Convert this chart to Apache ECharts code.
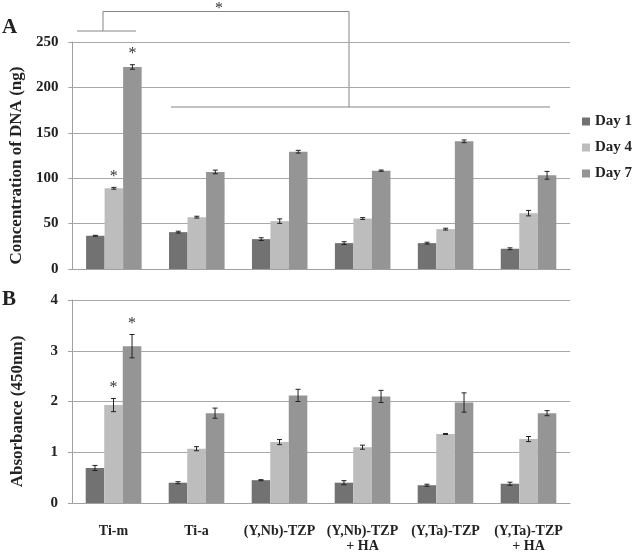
<!DOCTYPE html>
<html><head><meta charset="utf-8">
<script src="https://cdn.jsdelivr.net/npm/echarts@6/dist/echarts.min.js"></script>
<style>html,body{margin:0;padding:0;background:#fff}#c{width:632px;height:554px}</style>
</head><body><div id="c"></div>
<script>
var categories = ['Ti-m', 'Ti-a', '(Y,Nb)-TZP', '(Y,Nb)-TZP\n+ HA', '(Y,Ta)-TZP', '(Y,Ta)-TZP\n+ HA'];
var seriesNames = ['Day 1', 'Day 4', 'Day 7'];
// Panel A: DNA concentration (ng)
var dnaDay1 = [36.6, 40.6, 32.9, 28.5, 28.5, 22.3];
var dnaDay4 = [88.9, 57.1, 52.7, 55.6, 43.9, 61.5];
var dnaDay7 = [222.5, 106.9, 129.2, 108.3, 140.6, 103.2];
var dnaErr1 = [0.5, 1.0, 1.5, 1.5, 1.0, 1.0];
var dnaErr4 = [1.0, 1.0, 2.5, 1.0, 1.0, 3.0];
var dnaErr7 = [2.5, 2.0, 1.5, 0.7, 1.5, 4.3];
// Panel B: absorbance (450nm)
var absDay1 = [0.69, 0.40, 0.45, 0.40, 0.35, 0.38];
var absDay4 = [1.93, 1.07, 1.20, 1.10, 1.36, 1.26];
var absDay7 = [3.09, 1.77, 2.12, 2.10, 1.98, 1.77];
var absErr1 = [0.05, 0.02, 0.01, 0.04, 0.02, 0.03];
var absErr4 = [0.13, 0.04, 0.05, 0.04, 0.01, 0.05];
var absErr7 = [0.23, 0.10, 0.12, 0.12, 0.19, 0.05];
// significance markers: [categoryIndex, seriesIndex]
var starsA = [[0, 1], [0, 2]];
var starsB = [[0, 1], [0, 2]];
var yTicksA = {min: 0, max: 250, interval: 50};
var yTicksB = {min: 0, max: 4, interval: 1};

var colors = ['#727272', '#bdbdbd', '#959595'];
var FONT = 'Liberation Serif';
var CAT_GAP = 0.33;

var chart = echarts.init(document.getElementById('c'));

function errData(vals, errs) {
  return vals.map(function (v, i) { return [i, v - errs[i], v + errs[i]]; });
}
function barOffset(api, k) {
  var band = api.size([1, 0])[0];
  var bw = band * (1 - CAT_GAP) / 3;
  return (k - 1) * bw;
}
function errSeries(vals, errs, k, gi) {
  return {
    type: 'custom', xAxisIndex: gi, yAxisIndex: gi, z: 10, silent: true,
    data: errData(vals, errs),
    renderItem: function (params, api) {
      var off = barOffset(api, k);
      var lo = api.coord([api.value(0), api.value(1)]);
      var hi = api.coord([api.value(0), api.value(2)]);
      var x = lo[0] + off;
      var s = {stroke: '#222', lineWidth: 1};
      return {type: 'group', children: [
        {type: 'line', shape: {x1: x, y1: lo[1], x2: x, y2: hi[1]}, style: s},
        {type: 'line', shape: {x1: x - 2.5, y1: lo[1], x2: x + 2.5, y2: lo[1]}, style: s},
        {type: 'line', shape: {x1: x - 2.5, y1: hi[1], x2: x + 2.5, y2: hi[1]}, style: s}
      ]};
    }
  };
}
function starSeries(stars, valsList, errsList, gi) {
  return {
    type: 'custom', xAxisIndex: gi, yAxisIndex: gi, z: 11, silent: true,
    data: stars.map(function (s) {
      return [s[0], valsList[s[1]][s[0]] + errsList[s[1]][s[0]], s[1]];
    }),
    renderItem: function (params, api) {
      var k = api.value(2);
      var p = api.coord([api.value(0), api.value(1)]);
      return {type: 'text', x: p[0] + barOffset(api, k), y: p[1] - 3,
        style: {text: '*', fill: '#333', font: '16px "' + FONT + '"', align: 'center', verticalAlign: 'bottom'}};
    }
  };
}
function barSeries(name, vals, k, gi) {
  return {
    name: name, type: 'bar', xAxisIndex: gi, yAxisIndex: gi, data: vals,
    barGap: '0%', barCategoryGap: (CAT_GAP * 100) + '%',
    itemStyle: {color: colors[k]}
  };
}

var aVals = [dnaDay1, dnaDay4, dnaDay7], aErrs = [dnaErr1, dnaErr4, dnaErr7];
var bVals = [absDay1, absDay4, absDay7], bErrs = [absErr1, absErr4, absErr7];

var series = [];
for (var k = 0; k < 3; k++) series.push(barSeries(seriesNames[k], aVals[k], k, 0));
for (var k = 0; k < 3; k++) series.push(barSeries(seriesNames[k], bVals[k], k, 1));
for (var k = 0; k < 3; k++) series.push(errSeries(aVals[k], aErrs[k], k, 0));
for (var k = 0; k < 3; k++) series.push(errSeries(bVals[k], bErrs[k], k, 1));
series.push(starSeries(starsA, aVals, aErrs, 0));
series.push(starSeries(starsB, bVals, bErrs, 1));

function yAxis(gi, ticks, name) {
  return {
    type: 'value', gridIndex: gi, min: ticks.min, max: ticks.max, interval: ticks.interval,
    name: name, nameLocation: 'middle', nameGap: 46,
    nameTextStyle: {fontFamily: FONT, fontWeight: 'bold', fontSize: 17, color: '#222', padding: [0, 20, 0, 0]},
    axisLine: {show: true, lineStyle: {color: '#a0a0a0'}},
    axisTick: {show: true, length: 4, lineStyle: {color: '#a0a0a0'}},
    axisLabel: {fontFamily: FONT, fontWeight: 'bold', fontSize: 15, color: '#222', margin: 14},
    splitLine: {lineStyle: {color: '#a8a8a8', width: 1}}
  };
}
function xAxis(gi, showLabels) {
  return {
    type: 'category', gridIndex: gi, data: categories,
    axisLine: {lineStyle: {color: '#a0a0a0'}},
    axisTick: {show: false},
    axisLabel: {show: showLabels, interval: 0, fontFamily: FONT, fontWeight: 'bold', fontSize: 14,
      color: '#222', margin: 21, lineHeight: 15, verticalAlign: 'top'}
  };
}

var lineStyle = {stroke: '#858585', lineWidth: 1};
chart.setOption({
  animation: false,
  textStyle: {fontFamily: FONT},
  grid: [
    {left: 72, right: 62, top: 42, height: 227},
    {left: 72, right: 62, top: 300, height: 207}
  ],
  xAxis: [xAxis(0, false), xAxis(1, true)],
  yAxis: [yAxis(0, yTicksA, 'Concentration of DNA (ng)'), yAxis(1, yTicksB, 'Absorbance (450nm)')],
  legend: {
    data: seriesNames, orient: 'vertical', left: 582, top: 114, padding: 0,
    itemWidth: 8, itemHeight: 8, itemGap: 11, icon: 'rect',
    textStyle: {fontFamily: FONT, fontWeight: 'bold', fontSize: 15, color: '#222'}
  },
  series: series,
  graphic: [
    {type: 'text', left: 2, top: 17, style: {text: 'A', font: 'bold 21px "' + FONT + '"', fill: '#222'}},
    {type: 'text', left: 2, top: 289, style: {text: 'B', font: 'bold 21px "' + FONT + '"', fill: '#222'}},
    {type: 'line', shape: {x1: 77, y1: 31, x2: 136, y2: 31}, style: lineStyle},
    {type: 'line', shape: {x1: 103, y1: 31, x2: 103, y2: 11.5}, style: lineStyle},
    {type: 'line', shape: {x1: 103, y1: 11.5, x2: 349, y2: 11.5}, style: lineStyle},
    {type: 'line', shape: {x1: 349, y1: 11.5, x2: 349, y2: 107}, style: lineStyle},
    {type: 'line', shape: {x1: 171, y1: 107, x2: 550, y2: 107}, style: lineStyle},
    {type: 'text', x: 219, y: 1, style: {text: '*', font: '16px "' + FONT + '"', fill: '#333', align: 'center'}}
  ]
});
</script></body></html>
